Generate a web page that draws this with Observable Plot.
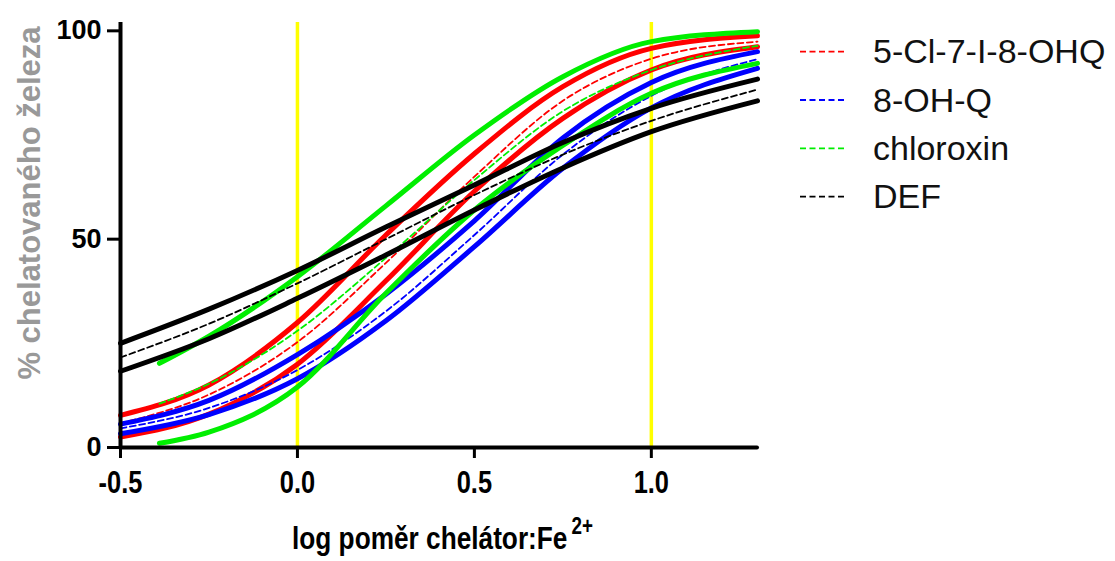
<!DOCTYPE html>
<html>
<head>
<meta charset="utf-8">
<script src="https://cdn.jsdelivr.net/npm/d3@7"></script>
<script src="https://cdn.jsdelivr.net/npm/@observablehq/plot@0.6"></script>
<style>
  html, body { margin: 0; padding: 0; background: #fff; }
  #wrap { position: relative; width: 1115px; height: 561px; }
  #legend { position: absolute; left: 0; top: 0; }
</style>
</head>
<body>
<div id="wrap"></div>
<script>
// ---- data ----
const xGrid = [-0.5, -0.25, 0, 0.25, 0.5, 0.75, 1.0, 1.3];
const xGridChloroxin = [-0.39, -0.25, 0, 0.25, 0.5, 0.75, 1.0, 1.3];

const chelators = ["5-Cl-7-I-8-OHQ", "8-OH-Q", "chloroxin", "DEF"];
const chelatorColors = ["#ff0000", "#0000ff", "#00ee00", "#000000"];

const clioUpper = [7.7, 15, 30, 51, 70.5, 86.6, 95.8, 98.8];
const clioFit   = [5.8, 12.7, 25.3, 44.3, 65, 83.2, 93.3, 97.4];
const clioLower = [2.5, 8, 20, 40, 61.5, 79, 90.6, 96.2];

const hqUpper = [5.6, 11.3, 22.3, 36.8, 54.4, 74.3, 87.6, 95];
const hqFit   = [4.6, 9.5, 18.6, 32.7, 51, 70.3, 84.4, 93.2];
const hqLower = [3.3, 7.9, 16.5, 30.4, 48.2, 67, 81.5, 91];

const chlUpper = [20.2, 26.7, 41, 58, 75, 89, 97.4, 99.8];
const chlFit   = [10.5, 15.3, 28, 45.5, 64.2, 80.7, 90.6, 96.4];
const chlLower = [1, 3.7, 14.5, 37, 57, 72.5, 85, 92.2];

const defUpper = [25, 33.2, 42.5, 52.9, 63, 73.2, 81.4, 88.4];
const defFit   = [21.6, 29.7, 39.4, 50, 60.6, 70.3, 78.4, 85.9];
const defLower = [18.3, 26.1, 35.8, 46.2, 57, 67.1, 75.8, 83.2];

const xTicks = [-0.5, 0, 0.5, 1.0];
const yTicks = [0, 50, 100];
const refLines = [0, 1];

const yLabel = "% chelatovaného železa";
const xLabelMain = "log poměr chelátor:Fe";
const xLabelSup = "2+";

// ---- build tables ----
const seriesDefs = [
  {name: chelators[0], color: chelatorColors[0], xs: xGrid, upper: clioUpper, fit: clioFit, lower: clioLower},
  {name: chelators[1], color: chelatorColors[1], xs: xGrid, upper: hqUpper, fit: hqFit, lower: hqLower},
  {name: chelators[2], color: chelatorColors[2], xs: xGridChloroxin, upper: chlUpper, fit: chlFit, lower: chlLower},
  {name: chelators[3], color: chelatorColors[3], xs: xGrid, upper: defUpper, fit: defFit, lower: defLower}
];
const toRows = (xs, ys) => xs.map((x, i) => ({x, y: ys[i]}));

const sans = "'Liberation Sans', Arial, sans-serif";
const NARROW = 0.82; // horizontal squeeze to mimic Arial Narrow

const marks = [
  Plot.ruleX(refLines, {y1: 0, y2: 102, stroke: "#ffff00", strokeWidth: 3.5})
];
for (const s of seriesDefs) {
  for (const band of [s.upper, s.lower]) {
    marks.push(Plot.line(toRows(s.xs, band), {x: "x", y: "y", stroke: s.color, strokeWidth: 5, curve: "monotone-x"}));
  }
  marks.push(Plot.line(toRows(s.xs, s.fit), {x: "x", y: "y", stroke: s.color, strokeWidth: 1.8, strokeDasharray: "6,3.5", curve: "monotone-x"}));
}
marks.push(
  Plot.ruleX([-0.5], {y1: 0, y2: 102, stroke: "#000", strokeWidth: 4}),
  Plot.ruleY([0], {x1: -0.5, x2: 1.3, stroke: "#000", strokeWidth: 4, strokeLinecap: "round"}),
  Plot.axisY({ticks: yTicks, tickSize: 13, tickPadding: 6, strokeWidth: 3, fontSize: 27, fontWeight: "bold", fontFamily: sans, fill: "#000", label: null, tickFormat: d => String(d)}),
  Plot.axisX({ticks: xTicks, tickSize: 11, tickPadding: 12, strokeWidth: 3, fontSize: 31, fontWeight: "bold", fontFamily: sans, fill: "#000", label: null, tickFormat: d => d.toFixed(1)})
);

const chart = Plot.plot({
  width: 1115,
  height: 561,
  marginLeft: 120,
  marginRight: 358,
  marginTop: 22,
  marginBottom: 114,
  x: {domain: [-0.5, 1.3]},
  y: {domain: [0, 102]},
  style: {background: "white", overflow: "visible"},
  marks
});

const wrap = document.getElementById("wrap");
wrap.appendChild(chart);

const svg = d3.select(chart);
// squeeze x tick labels horizontally (narrow face)
svg.selectAll("g[aria-label='x-axis tick label'] text").each(function() {
  const t = this.getAttribute("transform") || "";
  this.setAttribute("transform", t + ` scale(${NARROW},1)`);
});

// axis titles
svg.append("text")
  .attr("transform", "translate(40,203) rotate(-90)")
  .attr("text-anchor", "middle")
  .attr("font-family", sans)
  .attr("font-weight", "bold")
  .attr("font-size", 31)
  .attr("fill", "#999999")
  .text(yLabel);
const xt = svg.append("text")
  .attr("transform", `translate(292,549) scale(${NARROW},1)`)
  .attr("text-anchor", "start")
  .attr("font-family", sans)
  .attr("font-weight", "bold")
  .attr("font-size", 32)
  .attr("fill", "#000");
xt.append("tspan").text(xLabelMain);
xt.append("tspan").attr("dx", 5).attr("dy", -15).attr("font-size", 23).text(xLabelSup);

// legend
const legendRowsY = [51.7, 100, 148.3, 196.6];
const lg = d3.select(wrap).append("svg")
  .attr("id", "legend").attr("width", 1115).attr("height", 561)
  .style("pointer-events", "none");
chelators.forEach((name, i) => {
  const cy = legendRowsY[i];
  lg.append("line")
    .attr("x1", 800).attr("x2", 847).attr("y1", cy).attr("y2", cy)
    .attr("stroke", chelatorColors[i]).attr("stroke-width", 1.8)
    .attr("stroke-dasharray", "6,3.5");
  lg.append("text")
    .attr("x", 873).attr("y", cy + 11.5)
    .attr("text-anchor", "start")
    .attr("font-family", sans)
    .attr("font-size", 34)
    .attr("fill", "#111")
    .text(name);
});
</script>
</body>
</html>
